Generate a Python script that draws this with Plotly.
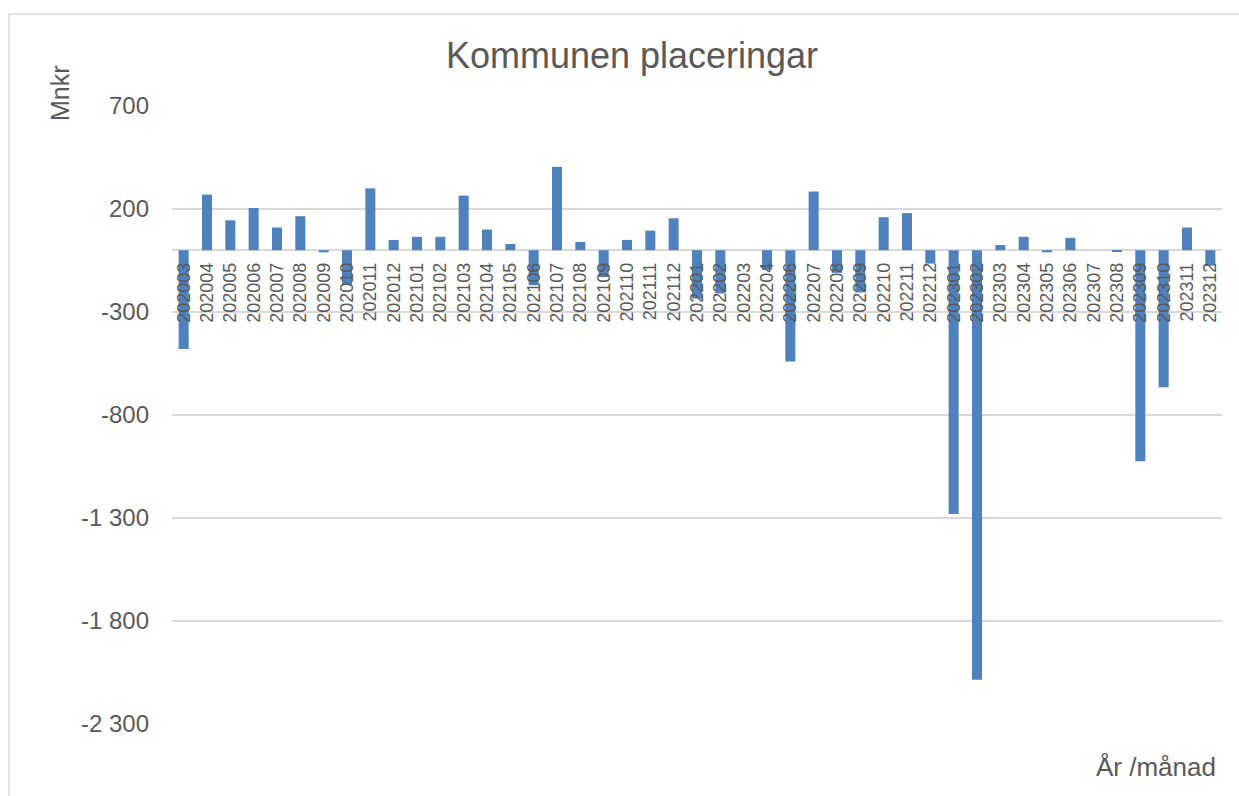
import plotly.graph_objects as go

months = ["202003", "202004", "202005", "202006", "202007", "202008", "202009", "202010", "202011", "202012",
          "202101", "202102", "202103", "202104", "202105", "202106", "202107", "202108", "202109", "202110",
          "202111", "202112", "202201", "202202", "202203", "202204", "202206", "202207", "202208", "202209",
          "202210", "202211", "202212", "202301", "202302", "202303", "202304", "202305", "202306", "202307",
          "202308", "202309", "202310", "202311", "202312"]
values = [-480, 270, 145, 205, 110, 165, -10, -165, 300, 50,
          65, 65, 265, 100, 30, -170, 405, 40, -130, 50,
          95, 155, -235, -210, 0, -95, -540, 285, -110, -205,
          160, 180, -65, -1280, -2085, 25, 65, -10, 60, 0,
          -4, -1025, -665, 110, -75]
ytick_vals = [700, 200, -300, -800, -1300, -1800, -2300]
ytick_text = ["700", "200", "-300", "-800", "-1 300", "-1 800", "-2 300"]

FONT = "Arial, Liberation Sans, sans-serif"
GREY = "#595959"
W, H = 1239, 796
L, R, T, B = 172, 17, 106, 72
pw, ph = W - L - R, H - T - B

def px(x):
    return (x - L) / pw

def py(y):
    return 1 - (y - T) / ph

ymin, ymax = -2300, 700

fig = go.Figure(go.Bar(x=months, y=values, marker=dict(color="#4F81BD", line=dict(width=0))))

fig.update_layout(
    width=W, height=H,
    margin=dict(l=L, r=R, t=T, b=B),
    paper_bgcolor="white", plot_bgcolor="white",
    bargap=0.57,
    showlegend=False,
    font=dict(family=FONT, color=GREY),
    title=dict(text="Kommunen placeringar", x=632 / W, xanchor="center", xref="container",
               y=1 - 55 / H, yanchor="middle", yref="container",
               font=dict(size=36, color=GREY, family=FONT)),
    xaxis=dict(type="category", anchor="free", position=(0 - ymin) / (ymax - ymin),
               showgrid=False, showline=False, zeroline=False, ticks="",
               tickangle=-90, tickfont=dict(size=18, color=GREY, family=FONT),
               ticklabelstandoff=8),
    yaxis=dict(range=[ymin, ymax], tickvals=ytick_vals, ticktext=ytick_text,
               showgrid=True, gridcolor="#D9D9D9", gridwidth=1.5,
               zeroline=True, zerolinecolor="#D9D9D9", zerolinewidth=1.5,
               showline=False, ticks="", ticklabelstandoff=22,
               tickfont=dict(size=24, color=GREY, family=FONT)),
    annotations=[
        dict(text="Mnkr", textangle=-90, x=px(60), y=py(93), xref="paper", yref="paper",
             xanchor="center", yanchor="middle", showarrow=False,
             font=dict(size=25, color=GREY, family=FONT)),
        dict(text="År /månad", x=px(1218), y=py(767), xref="paper", yref="paper",
             xanchor="right", yanchor="middle", showarrow=False,
             font=dict(size=26, color=GREY, family=FONT)),
    ],
    shapes=[
        dict(type="rect", xref="paper", yref="paper",
             x0=px(9), x1=px(1250), y0=py(810), y1=py(14),
             line=dict(color="#D9D9D9", width=1.5), fillcolor="rgba(0,0,0,0)", layer="below"),
    ],
)

fig.write_html("out.html", config={"displayModeBar": False},
               post_script="document.body.style.margin='0';document.body.style.overflow='hidden';")
